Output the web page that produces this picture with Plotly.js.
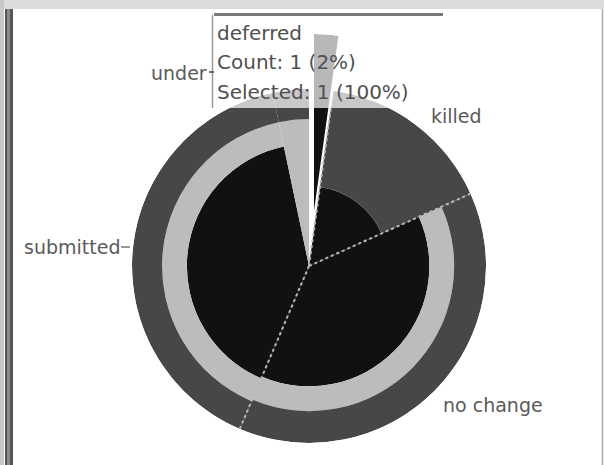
<!DOCTYPE html>
<html>
<head>
<meta charset="utf-8">
<script src="https://cdn.plot.ly/plotly-3.0.1.min.js"></script>
<style>html,body{margin:0;padding:0;background:#fff;}#chart{width:604px;height:465px;}</style>
</head>
<body>
<div id="chart"></div>
<script>
// ---- data (clockwise from 12 o'clock) ----
const categories = ['deferred', 'killed', 'no change', 'submitted', 'under'];
const sharePct = [2.2, 16.1, 38.1, 40.3, 3.3];          // slice share of total (%)
const selectedFrac = [1.0, 0.45, 0.68, 0.69, 0.0];      // black inner part (radial fraction)
const middleFrac = [0.0, 0.0, 0.14, 0.14, 0.83];        // light grey band (radial fraction)
const pulledOut = [true, false, false, false, false];   // hovered slice is pulled out
const tooltipLines = ['deferred', 'Count: 1 (2%)', 'Selected: 1 (100%)'];

// ---- derived ----
const widths = sharePct.map(s => s * 3.6);
const starts = [];
let acc = 0;
widths.forEach(w => { starts.push(acc); acc += w; });
const mids = starts.map((s, i) => s + widths[i] / 2);
const outerFrac = selectedFrac.map((s, i) => Math.max(0, 1 - s - middleFrac[i]));

const W = 604, H = 465;
const px = x => x / W;
const py = y => (H - y) / H;

const BLACK = '#111111', LIGHT = '#bcbcbc', DARK = '#474747';

function layerTraces(idx, subplot) {
  const pick = arr => idx.map(i => arr[i]);
  const common = {
    type: 'barpolar', subplot: subplot, hoverinfo: 'skip',
    theta: pick(mids), width: pick(widths), thetaunit: 'degrees'
  };
  return [
    Object.assign({}, common, {r: pick(selectedFrac), marker: {color: BLACK, line: {width: 0}}}),
    Object.assign({}, common, {r: pick(middleFrac), marker: {color: LIGHT, line: {width: 0}}}),
    Object.assign({}, common, {r: pick(outerFrac), marker: {color: DARK, line: {width: 0}}})
  ];
}

const mainIdx = categories.map((c, i) => i).filter(i => !pulledOut[i]);
const pullIdx = categories.map((c, i) => i).filter(i => pulledOut[i]);

const traces = [].concat(layerTraces(mainIdx, 'polar'), layerTraces(pullIdx, 'polar2'));

// dotted slice separators
[1, 2, 3].forEach(i => {
  traces.push({
    type: 'scatterpolar', subplot: 'polar', mode: 'lines', hoverinfo: 'skip',
    r: [0, 1], theta: [starts[i], starts[i]],
    line: {color: '#b8b8b8', width: 2, dash: 'dot'}
  });
});

const hiddenAngular = {visible: false, rotation: 90, direction: 'clockwise', showgrid: false, showline: false, ticks: ''};
const hiddenRadial = {visible: false, range: [0, 1], showgrid: false, showline: false, ticks: ''};

const font = {family: 'DejaVu Sans, sans-serif', size: 19, color: '#5a5a5a'};

const annotations = [
  {text: 'under', x: px(209), y: py(73), xanchor: 'right', yanchor: 'middle'},
  {text: 'killed', x: px(429), y: py(116), xanchor: 'left', yanchor: 'middle'},
  {text: 'submitted', x: px(22), y: py(247), xanchor: 'left', yanchor: 'middle'},
  {text: 'no change', x: px(441), y: py(405), xanchor: 'left', yanchor: 'middle'}
].map(a => Object.assign({xref: 'paper', yref: 'paper', showarrow: false, font: font}, a));

const tipY = [33, 62, 92];
tooltipLines.forEach((t, i) => {
  annotations.push({
    text: t, xref: 'paper', yref: 'paper', x: px(215), y: py(tipY[i]),
    xanchor: 'left', yanchor: 'middle', showarrow: false,
    font: {family: 'DejaVu Sans, sans-serif', size: 20, color: '#505050'}
  });
});

const shapes = [
  // window frame
  {type: 'rect', xref: 'paper', yref: 'paper', x0: 0, x1: 1, y0: py(9), y1: 1, fillcolor: '#dcdcdc', line: {width: 0}, layer: 'above'},
  {type: 'rect', xref: 'paper', yref: 'paper', x0: 0, x1: px(4), y0: 0, y1: 1, fillcolor: '#c8c8c8', line: {width: 0}, layer: 'above'},
  {type: 'rect', xref: 'paper', yref: 'paper', x0: px(5), x1: px(13), y0: 0, y1: py(9), fillcolor: '#555555', line: {width: 0}, layer: 'above'},
  {type: 'rect', xref: 'paper', yref: 'paper', x0: px(7), x1: px(10), y0: 0, y1: py(9), fillcolor: '#8a8a8a', line: {width: 0}, layer: 'above'},
  {type: 'line', xref: 'paper', yref: 'paper', x0: px(602.5), x1: px(602.5), y0: 0, y1: py(9), line: {color: '#aaaaaa', width: 1.5}, layer: 'above'},
  // tooltip box
  {type: 'rect', xref: 'paper', yref: 'paper', x0: px(212), x1: px(443), y0: py(108), y1: py(14), fillcolor: 'rgba(255,255,255,0.7)', line: {width: 0}, layer: 'above'},
  {type: 'line', xref: 'paper', yref: 'paper', x0: px(214), x1: px(443), y0: py(14.5), y1: py(14.5), line: {color: '#7a7a7a', width: 3}, layer: 'above'},
  {type: 'line', xref: 'paper', yref: 'paper', x0: px(212.5), x1: px(212.5), y0: py(108), y1: py(15), line: {color: '#9a9a9a', width: 1.5}, layer: 'above'},
  // label leaders
  {type: 'line', xref: 'paper', yref: 'paper', x0: px(209), x1: px(214), y0: py(72), y1: py(72), line: {color: '#444', width: 1.5}, layer: 'above'},
  {type: 'line', xref: 'paper', yref: 'paper', x0: px(121), x1: px(130), y0: py(247), y1: py(247), line: {color: '#777', width: 1.5}, layer: 'above'}
];

const layout = {
  width: W, height: H,
  margin: {l: 0, r: 0, t: 0, b: 0},
  paper_bgcolor: '#ffffff',
  showlegend: false,
  polar: {
    domain: {x: [px(132), px(486)], y: [py(443), py(89)]},
    bgcolor: 'rgba(0,0,0,0)', bargap: 0, barmode: 'stack',
    angularaxis: hiddenAngular, radialaxis: hiddenRadial
  },
  polar2: {
    domain: {x: [px(137), px(491)], y: [py(388), py(34)]},
    bgcolor: 'rgba(0,0,0,0)', bargap: 0, barmode: 'stack',
    angularaxis: hiddenAngular, radialaxis: hiddenRadial
  },
  annotations: annotations,
  shapes: shapes
};

Plotly.newPlot('chart', traces, layout, {displayModeBar: false, staticPlot: true});
</script>
</body>
</html>
